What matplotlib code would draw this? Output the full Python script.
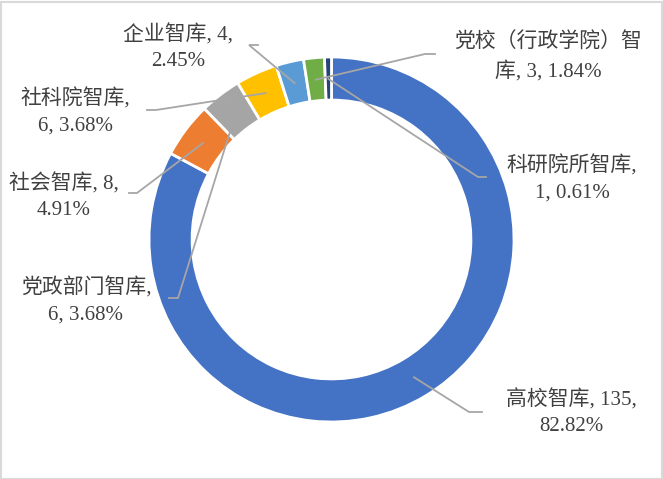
import numpy as np
import matplotlib.pyplot as plt
from matplotlib.patches import Rectangle

# data
names = ["高校智库", "社会智库", "党政部门智库", "社科院智库", "企业智库", "党校（行政学院）智库", "科研院所智库"]
counts = [135, 8, 6, 6, 4, 3, 1]
label_texts = [
    "高校智库, 135,\n82.82%",
    "社会智库, 8,\n4.91%",
    "党政部门智库,\n6, 3.68%",
    "社科院智库,\n6, 3.68%",
    "企业智库, 4,\n2.45%",
    "党校（行政学院）智\n库, 3, 1.84%",
    "科研院所智库,\n1, 0.61%",
]
colors = ["#4472C4", "#ED7D31", "#A5A5A5", "#FFC000", "#5B9BD5", "#70AD47", "#264478"]

W, H = 663, 479
cx, cy, R = 331.5, H - 239.5, 182.5
hole = 0.236

# label layout in pixel coords (x, y from top): text centre, elbow, line end
label_pos = [(571, 413), (64, 197), (86, 301), (75, 112), (178, 48), (548, 57), (572, 179)]
elbows = [(469, 412), (137, 193), (178, 298), (156, 110), (249, 45), (425, 54), (478, 177)]
ends = [(482, 412), (129, 193), (169, 298), (147, 110), (258, 45), (435, 54), (486, 177)]
# where along the ring each leader line touches (fraction of the outer radius)
anchor_r = [0.88, 0.88, 0.82, 0.88, 0.88, 0.88, 0.88]

fig = plt.figure(figsize=(W / 100, H / 100), dpi=100)
ax = fig.add_axes([0, 0, 1, 1])
wedges, _ = ax.pie(counts, colors=colors, startangle=90, counterclock=False,
                   center=(cx, cy), radius=R,
                   wedgeprops=dict(width=R * hole, edgecolor="white", linewidth=2))
ax.set_xlim(0, W)
ax.set_ylim(0, H)
ax.set_aspect("equal")
ax.axis("off")

font = ["Liberation Serif", "Noto Sans CJK SC"]
for w, txt, (tx, ty), (ex, ey), (lx, ly), fr in zip(wedges, label_texts, label_pos, elbows, ends, anchor_r):
    ang = np.deg2rad((w.theta1 + w.theta2) / 2)
    if fr < 0.85:
        ang = np.deg2rad(w.theta2 - 0.15 * (w.theta2 - w.theta1))
    ax0 = cx + R * fr * np.cos(ang)
    ay0 = cy + R * fr * np.sin(ang)
    ax.plot([ax0, ex, lx], [ay0, H - ey, H - ly], color="#A6A6A6", lw=1.3,
            solid_joinstyle="miter")
    ax.text(tx, H - ty, txt, ha="center", va="center", multialignment="center",
            fontsize=15, color="#404040", family=font, linespacing=1.45)

fig.patches.append(Rectangle((0.5 / W, 0.5 / H), 1 - 2 / W, 1 - 2 / H, transform=fig.transFigure,
                             fill=False, edgecolor="#D9D9D9", lw=1.5))
fig.savefig("out.png", dpi=100)
